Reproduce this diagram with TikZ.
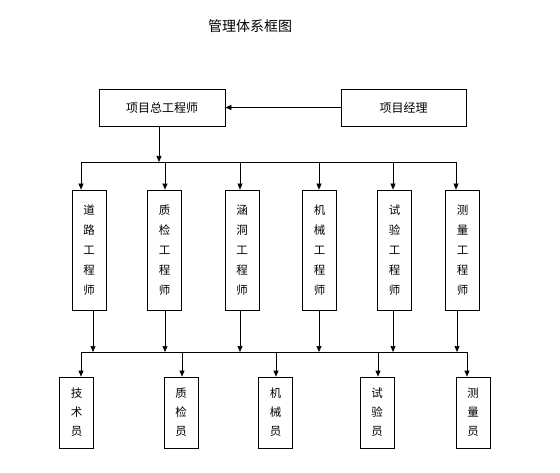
\documentclass[tikz,border=0pt]{standalone}
\usepackage{fontspec}
\setmainfont{Noto Sans CJK SC}
\usetikzlibrary{arrows.meta}
\begin{document}
\begin{tikzpicture}[x=1pt,y=-1pt,
  box/.style={draw=black,line width=0.7pt,inner sep=0pt,font=\fontsize{12}{14}\selectfont},
  topbox/.style={box,minimum width=126pt,minimum height=37pt},
  midbox/.style={box,minimum width=34pt,minimum height=120pt,align=center,font=\fontsize{11.5}{20}\selectfont},
  lowbox/.style={box,minimum width=34pt,minimum height=71pt,align=center,font=\fontsize{11.5}{19}\selectfont},
  conn/.style={draw=black,line width=0.7pt},
  arr/.style={conn,-{Triangle[length=6pt,width=5pt]}}]
\useasboundingbox (0,0) rectangle (560,473);
\node[font=\fontsize{14}{16}\selectfont] (title) at (250,26) {管理体系框图};
% top
\node[topbox] (pe) at (162,107.5) {\raisebox{-3pt}{项目总工程师}};
\node[topbox,minimum width=125pt] (pm) at (403.5,107.5) {\raisebox{-3pt}{项目经理}};
\draw[arr] (pm.west) -- (pe.east);
% middle boxes
\node[midbox] (e1) at (89,250) {道\\路\\工\\程\\师};
\node[midbox] (e2) at (164.5,250) {质\\检\\工\\程\\师};
\node[midbox] (e3) at (242,250) {涵\\洞\\工\\程\\师};
\node[midbox] (e4) at (319.5,250) {机\\械\\工\\程\\师};
\node[midbox] (e5) at (394.5,250) {试\\验\\工\\程\\师};
\node[midbox] (e6) at (462.5,250) {测\\量\\工\\程\\师};
% bus 1
\coordinate (t0) at (159,162);
\coordinate (t1) at (81,162);
\coordinate (t2) at (165,162);
\coordinate (t3) at (240,162);
\coordinate (t4) at (319,162);
\coordinate (t5) at (393,162);
\coordinate (t6) at (456,162);
\draw[arr] (t0 |- pe.south) -- (t0);
\draw[conn] (t1) -- (t6);
\foreach \i in {1,...,6} \draw[arr] (t\i) -- (t\i |- e\i.north);
% bus 2
\coordinate (u1) at (93,352);
\coordinate (u2) at (165,352);
\coordinate (u3) at (240,352);
\coordinate (u4) at (319,352);
\coordinate (u5) at (393,352);
\coordinate (u6) at (457,352);
\foreach \i in {1,...,6} \draw[arr] (u\i |- e\i.south) -- (u\i);
% lower boxes
\node[lowbox] (s1) at (76.5,412.5) {技\\术\\员};
\node[lowbox] (s2) at (181,412.5) {质\\检\\员};
\node[lowbox] (s3) at (275.5,412.5) {机\\械\\员};
\node[lowbox] (s4) at (377,412.5) {试\\验\\员};
\node[lowbox] (s5) at (473,412.5) {测\\量\\员};
\coordinate (v1) at (81,352);
\coordinate (v2) at (182,352);
\coordinate (v3) at (276,352);
\coordinate (v4) at (378,352);
\coordinate (v5) at (467,352);
\draw[conn] (v1) -- (v5);
\foreach \i in {1,...,5} \draw[arr] (v\i) -- (v\i |- s\i.north);
\end{tikzpicture}
\end{document}
